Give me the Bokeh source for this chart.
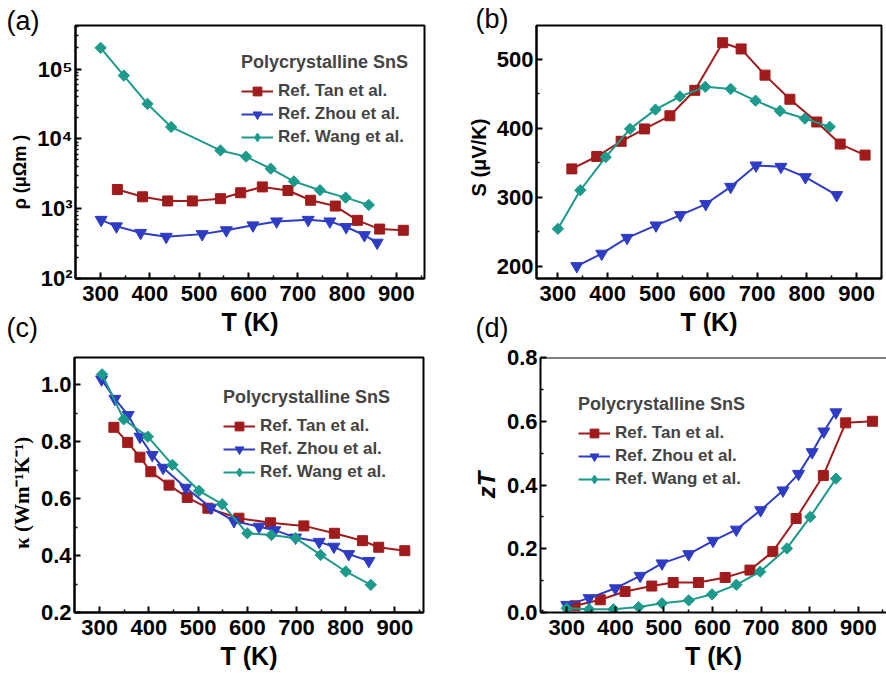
import numpy as np
from bokeh.plotting import figure
from bokeh.models import FixedTicker, Label, PrintfTickFormatter, Span, Range1d
from bokeh.layouts import column, row
from bokeh.embed import file_html
from bokeh.resources import INLINE

# ---- data: polycrystalline SnS, three literature reports ----
# (a) electrical resistivity rho (micro-ohm m)
tan_T_rho = [334, 385, 436, 486, 543, 584, 628, 680, 726, 776, 821, 866, 914]
tan_rho = [1880, 1480, 1290, 1290, 1390, 1690, 2050, 1820, 1320, 1090, 680, 510, 490]
zhou_T_rho = [301, 332, 381, 433, 506, 555, 609, 657, 721, 765, 798, 835, 861]
zhou_rho = [692, 559, 450, 396, 432, 491, 577, 657, 692, 657, 546, 418, 326]
wang_T_rho = [300, 347, 395, 443, 543, 595, 645, 692, 745, 797, 844]
wang_rho = [201000, 80700, 31700, 14800, 6820, 5560, 3740, 2460, 1840, 1440, 1130]

# (b) Seebeck coefficient S (uV/K)
tan_T_S = [328, 378, 427, 474, 525, 575, 631, 668, 716, 766, 820, 867, 917]
tan_S = [341, 359, 381, 399, 418, 455, 524, 515, 477, 442, 409, 377, 361]
zhou_T_S = [338, 388, 439, 497, 546, 597, 647, 698, 748, 797, 860]
zhou_S = [200, 218, 241, 259, 274, 290, 315, 346, 344, 329, 303]
wang_T_S = [300, 345, 396, 445, 496, 545, 596, 647, 697, 746, 796, 846]
wang_S = [254, 310, 358, 399, 427, 446, 460, 457, 440, 425, 414, 402]

# (c) thermal conductivity kappa (W m^-1 K^-1)
tan_T_k = [329, 357, 382, 404, 441, 478, 520, 583, 647, 715, 777, 834, 867, 920]
tan_k = [0.850, 0.797, 0.745, 0.694, 0.647, 0.604, 0.566, 0.531, 0.515, 0.504, 0.478, 0.452, 0.429, 0.417]
zhou_T_k = [304, 331, 358, 382, 407, 429, 475, 526, 573, 624, 656, 698, 746, 776, 806, 847]
zhou_k = [1.018, 0.950, 0.893, 0.817, 0.753, 0.708, 0.638, 0.568, 0.521, 0.501, 0.489, 0.463, 0.448, 0.431, 0.405, 0.381]
wang_T_k = [305, 349, 398, 448, 502, 549, 600, 649, 698, 749, 800, 851]
wang_k = [1.036, 0.878, 0.817, 0.718, 0.627, 0.580, 0.478, 0.472, 0.461, 0.402, 0.344, 0.297]

# (d) figure of merit zT
tan_T_zt = [317, 369, 420, 475, 519, 571, 626, 677, 724, 772, 828, 874, 929]
tan_zt = [0.021, 0.040, 0.066, 0.083, 0.094, 0.094, 0.110, 0.133, 0.191, 0.295, 0.430, 0.595, 0.600]
zhou_T_zt = [300, 346, 400, 451, 496, 551, 601, 649, 699, 745, 777, 805, 829, 854]
zhou_zt = [0.024, 0.045, 0.076, 0.115, 0.154, 0.183, 0.225, 0.260, 0.321, 0.383, 0.435, 0.503, 0.568, 0.628]
wang_T_zt = [300, 346, 396, 448, 496, 551, 599, 649, 698, 753, 801, 854]
wang_zt = [0.013, 0.010, 0.010, 0.017, 0.029, 0.038, 0.057, 0.087, 0.128, 0.201, 0.300, 0.420]

series_names = ["Ref. Tan et al.", "Ref. Zhou et al.", "Ref. Wang et al."]
legend_title = "Polycrystalline SnS"
panel_tags = ["(a)", "(b)", "(c)", "(d)"]

x_ticks = [300, 400, 500, 600, 700, 800, 900]
x_minor = [250, 350, 450, 550, 650, 750, 850, 950]

RED = "#A01C1C"
BLUE = "#2E3CC4"
TEAL = "#1C9A8B"
FONT = "Liberation Sans"
NB = "\u00a0"  # non-breaking space, nudges a rotated axis title along its axis
PAGE_W, PAGE_H = 886, 673


def make_fig(width, height, borders, x_range, y_range, y_type="linear"):
    left, top, right, bottom = borders
    p = figure(width=width, height=height, x_range=x_range, y_range=y_range,
               y_axis_type=y_type, output_backend="svg", toolbar_location=None,
               min_border_left=left, min_border_top=top,
               min_border_right=right, min_border_bottom=bottom)
    p.grid.visible = False
    p.outline_line_color = "black"
    p.outline_line_width = 2
    p.outline_line_alpha = 1
    for ax in p.axis:
        ax.axis_line_width = 2
        ax.major_tick_in = 6
        ax.major_tick_out = 0
        ax.minor_tick_in = 3
        ax.minor_tick_out = 0
        ax.major_tick_line_width = 2
        ax.minor_tick_line_width = 1.5
        ax.major_label_text_font = FONT
        ax.major_label_text_font_size = "22px"
        ax.major_label_text_font_style = "bold"
        ax.major_label_text_color = "black"
        ax.axis_label_text_color = "black"
        ax.axis_label_text_font = FONT
        ax.axis_label_text_font_style = "bold"
    p.xaxis.major_label_standoff = 7
    p.yaxis.major_label_standoff = 3
    p.xaxis.ticker = FixedTicker(ticks=x_ticks, minor_ticks=x_minor)
    p.xaxis.axis_label = "T (K)"
    p.xaxis.axis_label_text_font_size = "25px"
    p.xaxis.axis_label_standoff = 4
    p.yaxis.axis_label_standoff = 4
    return p


def add_series(p, xs, ys, color, marker, size, label=None, angle=0.0, key_marker=None):
    kw = {"legend_label": label} if label else {}
    p.line(xs, ys, line_color=color, line_width=2, **kw)
    if key_marker is None:
        p.scatter(xs, ys, marker=marker, size=size, angle=angle,
                  fill_color=color, line_color=color, **kw)
    else:
        # rotated squares on the curve, an upright diamond as the legend key
        # (the key renderer holds a single undefined point, so it never plots)
        p.scatter(xs, ys, marker=marker, size=size, angle=angle,
                  fill_color=color, line_color=color)
        if label:
            p.scatter([np.nan], [np.nan], marker=key_marker, fill_color=color,
                      line_color=color, legend_label=label)


def style_legend(p, loc):
    lg = p.legend[0]
    lg.title = legend_title
    lg.location = loc
    lg.title_text_font = FONT
    lg.title_text_font_style = "bold"
    lg.title_text_font_size = "18px"
    lg.title_standoff = 7
    lg.label_text_font = FONT
    lg.label_text_font_style = "bold"
    lg.label_text_font_size = "17px"
    lg.glyph_width = 32
    lg.glyph_height = 22
    lg.label_height = 20
    lg.label_standoff = 5
    lg.spacing = 1
    lg.padding = 0
    lg.margin = 0
    lg.border_line_alpha = 0
    lg.background_fill_alpha = 0


DIAMOND = np.pi / 4

# (a) resistivity, log scale
pa = make_fig(443, 346, (75, 25, 19, 63), (249, 957), (100, 4.2e5), y_type="log")
pa.yaxis.ticker = FixedTicker(
    ticks=[1e2, 1e3, 1e4, 1e5],
    minor_ticks=[m * d for d in (1e2, 1e3, 1e4, 1e5) for m in range(2, 10)])
pa.yaxis.major_label_overrides = {100: "10²", 1000: "10³", 10000: "10⁴", 100000: "10⁵"}
pa.yaxis.axis_label = "ρ (μΩm )" + NB * 8
pa.yaxis.axis_label_text_font_size = "18px"
add_series(pa, tan_T_rho, tan_rho, RED, "square", 10, series_names[0])
add_series(pa, zhou_T_rho, zhou_rho, BLUE, "inverted_triangle", 12, series_names[1])
add_series(pa, wang_T_rho, wang_rho, TEAL, "square", 8, series_names[2], DIAMOND, "diamond")
style_legend(pa, (166, 130))

# (b) Seebeck coefficient
pb = make_fig(443, 346, (93, 23, 5, 68), (257, 950), (182, 549))
pb.yaxis.ticker = FixedTicker(ticks=[200, 300, 400, 500], minor_ticks=[250, 350, 450, 550])
pb.yaxis.axis_label = "S (μV/K)" + NB * 2
pb.yaxis.axis_label_text_font_size = "20px"
add_series(pb, tan_T_S, tan_S, RED, "square", 10)
add_series(pb, zhou_T_S, zhou_S, BLUE, "inverted_triangle", 12)
add_series(pb, wang_T_S, wang_S, TEAL, "square", 8, None, DIAMOND, "diamond")

# (c) thermal conductivity
pc = make_fig(443, 327, (74, 11, 20, 60), (249, 958), (0.2, 1.095))
pc.yaxis.ticker = FixedTicker(ticks=[0.2, 0.4, 0.6, 0.8, 1.0], minor_ticks=[0.3, 0.5, 0.7, 0.9])
pc.yaxis.formatter = PrintfTickFormatter(format="%.1f")
pc.yaxis.axis_label = "κ (Wm⁻¹K⁻¹)" + NB * 3
pc.yaxis.axis_label_text_font = "Liberation Serif"
pc.yaxis.axis_label_text_font_size = "21px"
add_series(pc, tan_T_k, tan_k, RED, "square", 10, series_names[0])
add_series(pc, zhou_T_k, zhou_k, BLUE, "inverted_triangle", 12, series_names[1])
add_series(pc, wang_T_k, wang_k, TEAL, "square", 8, series_names[2], DIAMOND, "diamond")
style_legend(pc, (149, 129))

# (d) zT; the frame runs to the page edge, so only left, bottom and top are drawn
pd_ = make_fig(443, 327, (97, 10, 0, 61), (246, 958), (0, 0.8))
pd_.outline_line_alpha = 0
pd_.add_layout(Span(location=0.8, dimension="width", line_color="black", line_width=2))
pd_.yaxis.ticker = FixedTicker(ticks=[0, 0.2, 0.4, 0.6, 0.8], minor_ticks=[0.1, 0.3, 0.5, 0.7])
pd_.yaxis.formatter = PrintfTickFormatter(format="%.1f")
pd_.yaxis.axis_label = "zT"
pd_.yaxis.axis_label_text_font_style = "bold italic"
pd_.yaxis.axis_label_text_font_size = "24px"
add_series(pd_, tan_T_zt, tan_zt, RED, "square", 10, series_names[0])
add_series(pd_, zhou_T_zt, zhou_zt, BLUE, "inverted_triangle", 12, series_names[1])
add_series(pd_, wang_T_zt, wang_zt, TEAL, "square", 8, series_names[2], DIAMOND, "diamond")
style_legend(pd_, (38, 122))

# transparent full-page layer carrying the panel tags (page pixels, y downwards)
tags = figure(width=PAGE_W, height=PAGE_H, x_range=Range1d(0, PAGE_W),
              y_range=Range1d(PAGE_H, 0), output_backend="svg", toolbar_location=None,
              x_axis_location=None, y_axis_location=None, min_border=0,
              margin=(-PAGE_H, 0, 0, 0))
tags.grid.visible = False
tags.outline_line_color = None
tags.background_fill_alpha = 0
tags.border_fill_alpha = 0
for text, (tx, ty) in zip(panel_tags, [(6, 5), (475, 3), (6, 312), (475, 312)]):
    tags.add_layout(Label(x=tx, y=ty, text=text, text_baseline="top", text_font=FONT,
                          text_font_size="27px", text_color="black"))

layout = column(row(pa, pb), row(pc, pd_), tags)
open("out.html", "w").write(file_html(layout, INLINE))
